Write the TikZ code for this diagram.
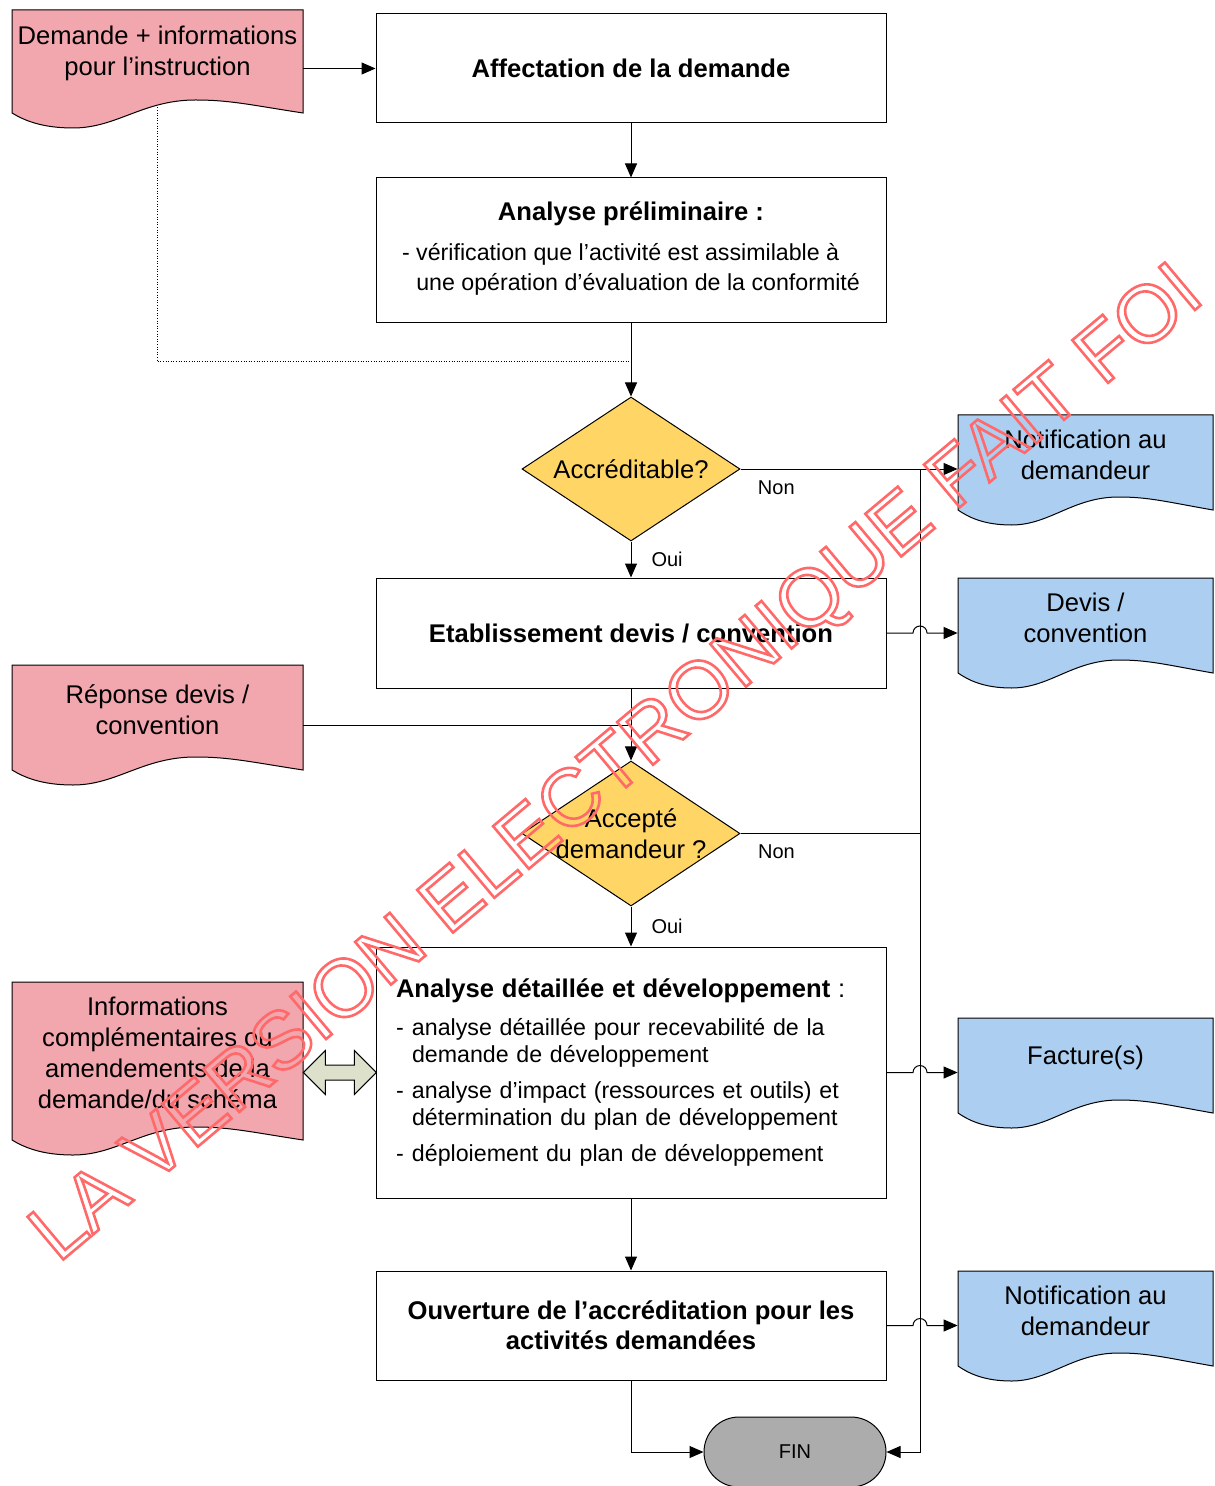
\documentclass[tikz,border=0pt]{standalone}
\usepackage{fontspec}
\setmainfont{Liberation Sans}
\usetikzlibrary{shapes.geometric,arrows.meta,positioning,calc}

\definecolor{docred}{RGB}{242,166,174}
\definecolor{docblue}{RGB}{172,206,240}
\definecolor{decyellow}{RGB}{255,214,102}
\definecolor{fingray}{RGB}{172,172,172}
\definecolor{arrowgreen}{RGB}{221,225,203}
\definecolor{wmred}{RGB}{255,105,105}

\tikzset{
	procbox/.style={draw, line width=0.5pt, minimum width=255pt, align=center, font=\bfseries},
	decision/.style={diamond, draw, line width=0.5pt, fill=decyellow, minimum width=109pt, minimum height=72pt, inner sep=0pt},
	dectext/.style={align=center, inner sep=0pt},
	docbox/.style={rectangle, inner sep=0pt},
	doctext/.style={align=center, inner sep=0pt},
	terminal/.style={draw, rounded corners=17.5pt, line width=0.5pt, fill=fingray, minimum width=91pt, minimum height=35pt, font=\fontsize{10}{12}\selectfont},
	link/.style={line width=0.5pt},
	flow/.style={line width=0.5pt, -{Triangle[length=7pt,width=6pt]}},
	lbl/.style={font=\fontsize{10}{12}\selectfont, inner sep=2pt},
}

% document shape: name, left, top, right, bottom of sides, fill, text
\newcommand{\docshape}[7]{%
	\filldraw[link, fill=#6] (#2,#3) -- (#4,#3) -- (#4,#5)
		.. controls ({#2+0.82*(#4-#2)},{#5-8}) and ({#2+0.75*(#4-#2)},{#5-13}) .. ({#2+0.63*(#4-#2)},{#5-13})
		.. controls ({#2+0.45*(#4-#2)},{#5-13}) and ({#2+0.36*(#4-#2)},{#5+15}) .. ({#2+0.21*(#4-#2)},{#5+15})
		.. controls ({#2+0.1*(#4-#2)},{#5+15}) and ({#2+0.04*(#4-#2)},{#5+7}) .. (#2,#5) -- cycle;
	\node[docbox, minimum width={(#4-#2)*0.5pt}, minimum height={(#5-#3)*0.5pt}] (#1) at ({(#2+#4)/2},{(#3+#5)/2}) {};
	\node[doctext] (#1-txt) at ([yshift=4pt]#1.center) {#7};
}

% outlined text
\newcommand{\outlined}[1]{\special{pdf:literal direct 1 Tr 1.3 w}#1\special{pdf:literal direct 0 Tr}}

\begin{document}
\fontsize{12.8}{15.5}\selectfont
\begin{tikzpicture}[x=0.5pt,y=-0.5pt]
	\useasboundingbox (0,0) rectangle (1214,1486);

	% process boxes
	\node[procbox, minimum height=54.5pt] (affect) at (631,68.5) {Affectation de la demande};
	\node[procbox, minimum height=72.5pt, font={}] (prelim) at (631,250.5) {\textbf{Analyse préliminaire :}\\[5.5pt]
		{\fontsize{11.6}{15}\selectfont\begin{tabular}{@{}l@{}}- vérification que l’activité est assimilable à\\\phantom{- }une opération d’évaluation de la conformité\end{tabular}}};
	\node[procbox, minimum height=55pt] (devis) at (631,633) {Etablissement devis / convention};
	\node[procbox, minimum height=125.5pt, text width=235pt, align=left, font=\fontsize{11.6}{13.5}\selectfont] (detail) at (631,1072.5) {{\fontsize{12.8}{13.5}\selectfont\textbf{Analyse détaillée et développement} :}\\[5.5pt]
		\makebox[8pt][l]{-}analyse détaillée pour recevabilité de la\\
		\hspace*{8pt}demande de développement\\[4.5pt]
		\makebox[8pt][l]{-}analyse d’impact (ressources et outils) et\\
		\hspace*{8pt}détermination du plan de développement\\[4.5pt]
		\makebox[8pt][l]{-}déploiement du plan de développement};
	\node[procbox, minimum height=54.5pt, font=\bfseries\fontsize{12.8}{15}\selectfont] (ouvert) at (631,1325.5) {Ouverture de l’accréditation pour les\\activités demandées};

	% decisions
	\node[decision] (acc) at (631,469) {};
	\node[dectext] (acc-txt) at (acc.center) {Accréditable?};
	\node[decision, minimum height=72.5pt] (accept) at (631,833.5) {};
	\node[dectext] (accept-txt) at (accept.center) {Accepté\\demandeur ?};

	% end
	\node[terminal] (fin) at (795,1452) {FIN};

	% documents
	\docshape{demdoc}{12}{10}{303}{113}{docred}{Demande + informations\\pour l’instruction}
	\docshape{repdoc}{12}{665}{303}{770}{docred}{Réponse devis /\\convention}
	\docshape{infodoc}{12}{982}{303}{1140}{docred}{Informations\\complémentaires ou\\amendements de la\\demande/du schéma}
	\docshape{notifdoc}{958}{415}{1213}{510}{docblue}{Notification au\\demandeur}
	\docshape{devisdoc}{958}{578}{1213}{673}{docblue}{Devis /\\convention}
	\docshape{factdoc}{958}{1018}{1213}{1113}{docblue}{Facture(s)}
	\docshape{notiftwo}{958}{1271}{1213}{1366}{docblue}{Notification au\\demandeur}

	% main flow
	\draw[flow] (demdoc.east |- affect.west) -- (affect.west);
	\draw[flow] (affect) -- (prelim);
	\coordinate (dotjoin) at (631,362);
	\draw[link, dash pattern=on 0.5pt off 0.8pt] ([yshift=3pt]demdoc.south) |- (dotjoin);
	\draw[flow] (prelim) -- (acc);
	\draw[flow] (acc) -- node[lbl, right=8pt] (oui1) {Oui} (devis);
	\coordinate (repjoin) at (631,725);
	\draw[link] (repdoc.east |- repjoin) -- (repjoin);
	\draw[flow] (devis) -- (accept);
	\draw[flow] (accept) -- node[lbl, right=8pt] (oui2) {Oui} (detail);
	\draw[flow] (detail) -- (ouvert);
	\draw[flow] (ouvert.south) |- (fin.west);

	% refusals
	\coordinate (bus) at (920,469);
	\draw[flow] (acc.east) -- node[lbl, pos=0.165, below=3.4pt] (non1) {Non} (acc.east -| notifdoc.west);
	\draw[link] (accept.east) -- node[lbl, pos=0.2, below=3.4pt] (non2) {Non} (accept.east -| bus);
	\draw[flow] (bus) |- (fin.east);

	% outputs (jump over the bus)
	\draw[flow] (devis.east) -- ([xshift=-3.5pt]devis.east -| bus) arc[start angle=180, end angle=0, radius=3.5pt] -- (devis.east -| devisdoc.west);
	\draw[flow] (detail.east) -- ([xshift=-3.5pt]detail.east -| bus) arc[start angle=180, end angle=0, radius=3.5pt] -- (detail.east -| factdoc.west);
	\draw[flow] (ouvert.east) -- ([xshift=-3.5pt]ouvert.east -| bus) arc[start angle=180, end angle=0, radius=3.5pt] -- (ouvert.east -| notiftwo.west);

	% exchange
	\coordinate (dbl) at (infodoc.east |- detail.west);
	\filldraw[link, fill=arrowgreen] (dbl) -- ++(22,-22) -- ++(0,14.5) -- ++(29,0) -- ++(0,-14.5) -- ++(22,22)
		-- ++(-22,22) -- ++(0,-14.5) -- ++(-29,0) -- ++(0,14.5) -- cycle;

	% watermark
	\node[rotate=40, anchor=base west, inner sep=0pt, text=wmred, font=\fontsize{40.5}{44}\selectfont] (wm) at (58,1264)
		{\outlined{LA VERSION ELECTRONIQUE FAIT FOI}};

\end{tikzpicture}
\end{document}
